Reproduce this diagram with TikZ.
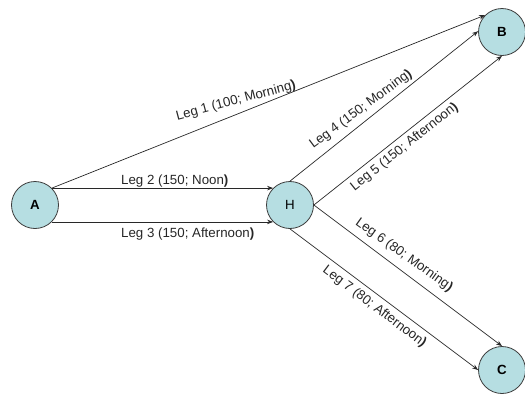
\documentclass[tikz,border=0pt]{standalone}
\usepackage{fontspec}
\setmainfont{Liberation Sans}
\usetikzlibrary{arrows.meta}
\definecolor{nodefill}{RGB}{182,222,226}
\definecolor{nodeline}{RGB}{60,60,60}
\definecolor{edgeline}{RGB}{40,40,40}
\tikzset{
  place/.style={circle, draw=nodeline, line width=0.8pt, fill=nodefill,
    minimum size=47pt, inner sep=0pt, font=\fontsize{13.3}{16}\selectfont},
  leg/.style={draw=edgeline, line width=0.7pt, -{Stealth[length=6pt,width=4.5pt]}},
  lbl/.style={inner sep=0pt, font=\fontsize{13.3}{16}\selectfont, text=black!85}
}
\newcommand{\cp}{\textbf{)}}
\begin{document}
\begin{tikzpicture}[x=1pt,y=-1pt]
\useasboundingbox (0,0) rectangle (525,394);
\node[place] (A) at (35,205) {\textbf{A}};
\node[place] (H) at (290,205) {H};
\node[place] (B) at (502,32) {\textbf{B}};
\node[place] (C) at (502,370) {\textbf{C}};

\draw[leg] (A.45) -- (B.135);
\draw[leg] (A.45) -- (H.135);
\draw[leg] (A.-45) -- (H.-135);
\draw[leg] (H.90) -- (B.178);
\draw[leg] (H.0) -- (B.-90);
\draw[leg] (H.0) -- (C.90);
\draw[leg] (H.-90) -- (C.180);

\node[lbl, rotate=15] (l1) at (236,101) {Leg 1 (100; Morning\cp};
\node[lbl, anchor=base west] (l2) at (121,184) {Leg 2 (150; Noon\cp};
\node[lbl, anchor=base west] (l3) at (121,237) {Leg 3 (150; Afternoon\cp};
\node[lbl, rotate=36.5] (l4) at (361,109.5) {Leg 4 (150; Morning\cp};
\node[lbl, rotate=38.5] (l5) at (404.5,147) {Leg 5 (150; Afternoon\cp};
\node[lbl, rotate=-35.6] (l6) at (404,255) {Leg 6 (80; Morning\cp};
\node[lbl, rotate=-37] (l7) at (374.5,307) {Leg 7 (80; Afternoon\cp};
\end{tikzpicture}
\end{document}
